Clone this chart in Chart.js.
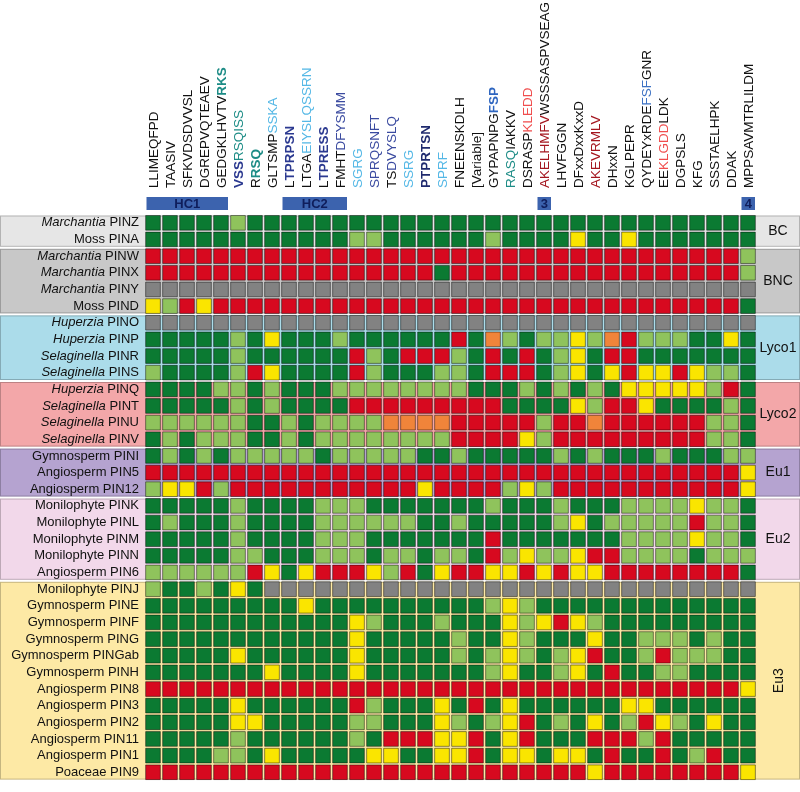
<!DOCTYPE html>
<html>
<head>
<title>PIN motif conservation</title>
<style>
  body { margin: 0; background: #fff; }
  canvas { display: block; }
</style>
</head>
<body>
<canvas id="heat" width="800" height="792"></canvas>
<script src="https://cdn.jsdelivr.net/npm/chart.js"></script>
<script>
// Column motifs, each split into coloured segments [text, style]
const motifs = [
  [['LLIMEQFPD', 'k']],
  [['TAASIV', 'k']],
  [['SFKVDSDVVSL', 'k']],
  [['DGREPVQTEAEV', 'k']],
  [['GEDGKLHVTV', 'k'], ['RKS', 'tb']],
  [['VSS', 'nb'], ['RSQISS', 't']],
  [['R', 'k'], ['RSQ', 'tb']],
  [['GLTSMP', 'k'], ['SSKA', 'lb']],
  [['L', 'k'], ['TPRPSN', 'nb']],
  [['LTGA', 'k'], ['EIYSLQSSRN', 'lb']],
  [['L', 'k'], ['TPRESS', 'nb']],
  [['FMHT', 'k'], ['DFYSMM', 'n']],
  [['SGRG', 'lb']],
  [['SPRQSNFT', 'n']],
  [['TS', 'k'], ['DVYSLQ', 'n']],
  [['SSRG', 'lb']],
  [['PTPRTSN', 'db']],
  [['SPRF', 'lb']],
  [['FNEENSKDLH', 'k']],
  [['[Variable]', 'k']],
  [['GYPAPNPG', 'k'], ['FSP', 'bb']],
  [['RASQ', 't'], ['IAKKV', 'k']],
  [['DSRASP', 'k'], ['KLEDD', 'lr']],
  [['AKELHMFV', 'dr'], ['WSSSASPVSEAG', 'k']],
  [['LHVFGGN', 'k']],
  [['DFxxDxxKxxD', 'k']],
  [['AKEVRMLV', 'dr']],
  [['DHxxN', 'k']],
  [['KGLPEPR', 'k']],
  [['QYDEYxRDE', 'k'], ['FSF', 'b'], ['GNR', 'k']],
  [['EE', 'k'], ['KLGDD', 'lr'], ['LDK', 'k']],
  [['DGPSLS', 'k']],
  [['KFG', 'k']],
  [['SSSTAELHPK', 'k']],
  [['DDAK', 'k']],
  [['MPPSAVMTRLILDM', 'k']]
];

const taxa = [
  'Marchantia', 'Moss',
  'Marchantia', 'Marchantia', 'Marchantia', 'Moss',
  'Huperzia', 'Huperzia', 'Selaginella', 'Selaginella',
  'Huperzia', 'Selaginella', 'Selaginella', 'Selaginella',
  'Gymnosperm', 'Angiosperm', 'Angiosperm',
  'Monilophyte', 'Monilophyte', 'Monilophyte', 'Monilophyte', 'Angiosperm',
  'Monilophyte', 'Gymnosperm', 'Gymnosperm', 'Gymnosperm', 'Gymnosperm', 'Gymnosperm',
  'Angiosperm', 'Angiosperm', 'Angiosperm', 'Angiosperm', 'Angiosperm', 'Poaceae'
];
const genes = [
  'PINZ', 'PINA',
  'PINW', 'PINX', 'PINY', 'PIND',
  'PINO', 'PINP', 'PINR', 'PINS',
  'PINQ', 'PINT', 'PINU', 'PINV',
  'PINI', 'PIN5', 'PIN12',
  'PINK', 'PINL', 'PINM', 'PINN', 'PIN6',
  'PINJ', 'PINE', 'PINF', 'PING', 'PINGab', 'PINH',
  'PIN8', 'PIN3', 'PIN2', 'PIN11', 'PIN1', 'PIN9'
];
const italicTaxa = ['Marchantia', 'Huperzia', 'Selaginella'];

const groupNames = ['BC', 'BNC', 'Lyco1', 'Lyco2', 'Eu1', 'Eu2', 'Eu3'];
const groupSizes = [2, 4, 4, 4, 3, 5, 12];

const headerBars = [
  { label: 'HC1', from: 0, to: 4 },
  { label: 'HC2', from: 8, to: 11 },
  { label: '3', from: 23, to: 23 },
  { label: '4', from: 35, to: 35 }
];

// G dark green, L light green, R red, Y yellow, X grey, O orange
const cells = [
  'GGGGGLGGGGGGGGGGGGGGGGGGGGGGGGGGGGGG',
  'GGGGGGGGGGGGLLGGGGGGLGGGGYGGYGGGGGGG',
  'RRRRRRRRRRRRRRRRRRRRRRRRRRRRRRRRRRRL',
  'RRRRRRRRRRRRRRRRRGRRRRRRRRRRRRRRRRRL',
  'XXXXXXXXXXXXXXXXXXXXXXXXXXXXXXXXXXXX',
  'YLRYRRRRRRRRRRRRRRRRRRRRRRRRRRRRRRRG',
  'XXXXXXXXXXXXXXXXXXXXXXXXXXXXXXXXXXXX',
  'GGGGGLGYGGGLGGGGGG' + 'RGOLGLLYLORLLLGGYG',
  'GGGGGLGGGGGGRLGRRR' + 'LGRGRGLYGRRGGGGGGG',
  'LGGGGLRYGGGGRLGGGL' + 'LGRRRGLYGYRYYRYLLG',
  'GGGGLLGLGGGLLLLLLL' + 'LGGGLGLGLGYYYYYLRG',
  'GGGGGLGLGGGGRRRRRR' + 'RRRGGGGYLRRYGGGGLG',
  'LLLLLLGGLGLLLLOOOO' + 'RRRRRLRRORRRRRRLLG',
  'GLGLLLGGLGLLLLLLLL' + 'RRRRYLRRRRRRRRRLLG',
  'GLGLGLLLLLGLLLLLGG' + 'LGGGGGLGLGGGLGGGLL',
  'RRRRRRRRRRRRRRRRRRRRRRRRRRRRRRRRRRRY',
  'LYYRLRRRRRRRRRRRYR' + 'RRRLYLRRRRRRRRRRRY',
  'GGGGGLGGGGLLLGGGGG' + 'GGLGGGLGGGLLLLYLLG',
  'GLGGGLGGGGLLLLLLGG' + 'LGGGGGLYGLLLLLRLLG',
  'GGGGGLGGGGLLLGGGGG' + 'GGRGGGGGGGLLLLYLLG',
  'GGGGGLLGGGLLLGLLGL' + 'LGRLYLLYRRLLLLGLLL',
  'LLLLLLRYGYRRRYLRGY' + 'RRYYRYRYYRRRRRRRRG',
  'LGGLGYGXXXXXXXXXXX' + 'XXXXXXXXXXXXXXXXXX',
  'GGGGGGGGGYGGGGGGGG' + 'GGLYLGGGGGGGGGGGGG',
  'GGGGGGGGGGGGYLGGGL' + 'GGGYLYRYLGGGGGGGGG',
  'GGGGGGGGGGGGYGGGGG' + 'LGGYLGGGYGGLLLGLGG',
  'GGGGGYGGGGGGYGGGGG' + 'LGLYLGLYRGGLRLLLGG',
  'GGGGGGGYGGGGYGGGGG' + 'GGLYGGLYGRGGLLGGGG',
  'RRRRRRRRRRRRRRRRRRRRRRRRRRRRRRRRRRRY',
  'GGGGGYGGGGGGRLGGGY' + 'GRGYGGGGGGYYGGGGGG',
  'GGGGGYYGGGGGLLGGGY' + 'LGLYRGLGYGLRYLGYGG',
  'GGGGGLGGGGGGLGRRRY' + 'YRGYRGGGRRRLRGGGGG',
  'GGGGLLGYGGGGGYYGGY' + 'YRGYYGYYGRGGRGLRGG',
  'RRRRRRRRRRRRRRRRRRRRRRRRRRYRRRRRRRRY'
];

const cellColors = { G: '#0b7a32', L: '#8fc35c', R: '#d7091f', Y: '#fae500', X: '#828282', O: '#f0843a' };
const groupColors = ['#e6e6e6', '#c8c8c8', '#abdcea', '#f3a7a9', '#b5a3d0', '#f2d8ea', '#fde9a5'];
const segStyles = {
  k:  { color: '#111111', bold: false },
  t:  { color: '#1d8c86', bold: false },
  tb: { color: '#1d8c86', bold: true },
  n:  { color: '#3b4ba0', bold: false },
  nb: { color: '#2b3990', bold: true },
  db: { color: '#1f2a6e', bold: true },
  lb: { color: '#55b8e6', bold: false },
  b:  { color: '#3d72c4', bold: false },
  bb: { color: '#2f66c0', bold: true },
  lr: { color: '#f04e4e', bold: false },
  dr: { color: '#a4161f', bold: false }
};
const FONT = '"Liberation Sans", Arial, sans-serif';

const points = [];
cells.forEach((row, r) => {
  for (let c = 0; c < row.length; c++) {
    points.push({ x: c, y: r, v: row[c] });
  }
});

const decor = {
  id: 'decor',
  beforeDatasetsDraw(chart) {
    const { ctx, scales: { x, y } } = chart;
    const W = chart.width;
    ctx.save();

    // group bands + group names
    let start = 0;
    groupSizes.forEach((n, g) => {
      const top = y.getPixelForValue(start - 0.5);
      const bot = y.getPixelForValue(start + n - 0.5);
      ctx.fillStyle = groupColors[g];
      ctx.fillRect(0, top + 1, W, bot - top - 2);
      ctx.strokeStyle = 'rgba(0,0,0,0.22)';
      ctx.lineWidth = 1;
      ctx.strokeRect(0.5, top + 1.5, W - 1, bot - top - 3);

      ctx.fillStyle = '#111';
      ctx.font = '14px ' + FONT;
      ctx.textAlign = 'center';
      ctx.textBaseline = 'middle';
      const cy = (top + bot) / 2;
      if (groupNames[g] === 'Eu3') {
        ctx.save();
        ctx.translate(779, cy);
        ctx.rotate(-Math.PI / 2);
        ctx.fillText(groupNames[g], 0, 0);
        ctx.restore();
      } else {
        ctx.fillText(groupNames[g], 778, cy);
      }
      start += n;
    });

    // row labels
    ctx.textBaseline = 'middle';
    ctx.textAlign = 'left';
    genes.forEach((gene, r) => {
      const cy = y.getPixelForValue(r);
      const it = italicTaxa.includes(taxa[r]);
      const f1 = (it ? 'italic ' : '') + '13px ' + FONT;
      const f2 = '13px ' + FONT;
      ctx.font = f1;
      const w1 = ctx.measureText(taxa[r] + ' ').width;
      ctx.font = f2;
      const w2 = ctx.measureText(gene).width;
      const px = 139 - w1 - w2;
      ctx.fillStyle = '#111';
      ctx.font = f1;
      ctx.fillText(taxa[r] + ' ', px, cy);
      ctx.font = f2;
      ctx.fillText(gene, px + w1, cy);
    });

    // column labels (rotated)
    motifs.forEach((segs, c) => {
      const cx = x.getPixelForValue(c);
      ctx.save();
      ctx.translate(cx, 188);
      ctx.rotate(-Math.PI / 2);
      ctx.textAlign = 'left';
      ctx.textBaseline = 'alphabetic';
      let pos = 0;
      segs.forEach(([txt, st]) => {
        const s = segStyles[st];
        ctx.font = (s.bold ? 'bold ' : '') + '13.5px ' + FONT;
        ctx.fillStyle = s.color;
        ctx.fillText(txt, pos, 4.8);
        pos += ctx.measureText(txt).width;
      });
      ctx.restore();
    });

    // header bars
    headerBars.forEach(b => {
      const l = x.getPixelForValue(b.from - 0.5) + 2;
      const rr = x.getPixelForValue(b.to + 0.5) - 1.5;
      ctx.fillStyle = '#3c63ae';
      ctx.fillRect(l, 197, rr - l, 13);
      ctx.fillStyle = '#0f1e5c';
      ctx.font = 'bold 13px ' + FONT;
      ctx.textAlign = 'center';
      ctx.textBaseline = 'middle';
      ctx.fillText(b.label, (l + rr) / 2, 204);
    });

    ctx.restore();
  }
};

new Chart(document.getElementById('heat'), {
  type: 'scatter',
  data: {
    datasets: [{
      data: points,
      pointStyle: 'rect',
      pointRadius: 10.4,
      pointHoverRadius: 10.4,
      borderWidth: 1,
      borderColor: 'rgba(0,0,0,0.45)',
      backgroundColor: ctx => cellColors[ctx.raw.v]
    }]
  },
  options: {
    responsive: false,
    animation: false,
    events: [],
    layout: { padding: { left: 144.5, right: 43.5, top: 214.5, bottom: 3 } },
    scales: {
      x: { type: 'linear', min: -0.5, max: 35.5, display: false },
      y: { type: 'linear', min: -0.5, max: 33.5, reverse: true, display: false }
    },
    plugins: { legend: { display: false }, tooltip: { enabled: false } }
  },
  plugins: [decor]
});
</script>
</body>
</html>
